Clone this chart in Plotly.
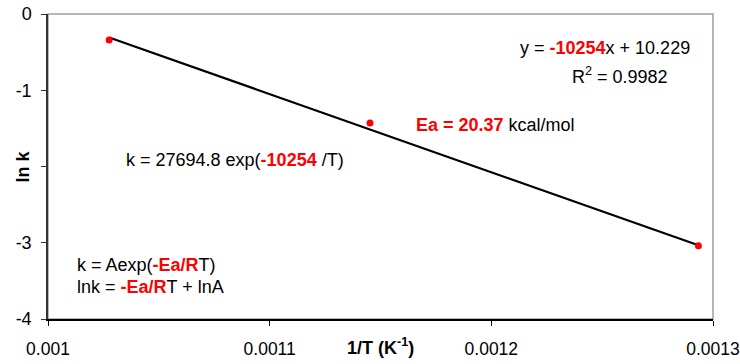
import plotly.graph_objects as go

# Data
inv_T = [1 / 973.15, 1 / 873.15, 1 / 773.15]   # 1/T (K^-1)
ln_k = [-0.34, -1.43, -3.04]
slope = -10254
intercept = 10.229
r2 = 0.9982
Ea = 20.37
A = 27694.8

x_ticks = [0.001, 0.0011, 0.0012, 0.0013]
x_tick_labels = ["0.001", "0.0011", "0.0012", "0.0013"]
y_ticks = [0, -1, -2, -3, -4]
y_tick_labels = ["0", "-1", "", "-3", "-4"]

FONT = "Liberation Sans, Arial, sans-serif"
RED = "#ff0000"

fit_x = [min(inv_T), max(inv_T)]
fit_y = [slope * x + intercept for x in fit_x]

fig = go.Figure()
fig.add_trace(go.Scatter(x=fit_x, y=fit_y, mode="lines",
                         line=dict(color="black", width=2.2), showlegend=False,
                         hoverinfo="skip"))
fig.add_trace(go.Scatter(x=inv_T, y=ln_k, mode="markers",
                         marker=dict(color=RED, size=7), showlegend=False))

def red(s):
    return f"<span style='color:{RED}'><b>{s}</b></span>"

ann = [
    dict(x=0.001212, y=-0.45, xanchor="left", yanchor="middle",
         text=f"y = {red(slope)}x + {intercept}"),
    dict(x=0.001258, y=-0.8, xanchor="center", yanchor="middle",
         text=f"R<sup>2</sup> = {r2}"),
    dict(x=0.0011652, y=-1.46, xanchor="left", yanchor="middle",
         text=f"{red(f'Ea = {Ea}')} kcal/mol"),
    dict(x=0.0010343, y=-1.92, xanchor="left", yanchor="middle",
         text=f"k = {A} exp({red(slope)} /T)"),
    dict(x=0.0010122, y=-3.29, xanchor="left", yanchor="middle",
         text=f"k = Aexp({red('-Ea/R')}T)"),
    dict(x=0.0010122, y=-3.585, xanchor="left", yanchor="middle",
         text=f"lnk = {red('-Ea/R')}T + lnA"),
]
annotations = []
for a in ann:
    a.update(xref="x", yref="y", showarrow=False,
             font=dict(family=FONT, size=18, color="black"))
    annotations.append(a)

annotations.append(dict(xref="paper", yref="paper", x=0.5, y=0, yshift=-27,
                        xanchor="center", yanchor="middle", showarrow=False,
                        text="<b>1/T (K<sup>-1</sup>)</b>",
                        font=dict(family=FONT, size=18, color="black")))
annotations.append(dict(xref="paper", yref="paper", x=0, y=0.5, xshift=-26,
                        xanchor="center", yanchor="middle", showarrow=False,
                        textangle=-90, text="<b>ln k</b>",
                        font=dict(family=FONT, size=18, color="black")))

fig.update_layout(
    width=740, height=364,
    margin=dict(l=48, r=27, t=14, b=45),
    paper_bgcolor="white", plot_bgcolor="white",
    font=dict(family=FONT, size=18, color="black"),
    annotations=annotations,
    shapes=[dict(type="rect", xref="paper", yref="paper", x0=0, x1=1, y0=0, y1=1,
                 line=dict(color="#a0a0a0", width=1.5), layer="below")],
    xaxis=dict(range=[0.001, 0.0013], tickvals=x_ticks, ticktext=x_tick_labels,
               showgrid=False, zeroline=False, showline=True, linecolor="black",
               linewidth=1.5, ticks="outside", ticklen=5, tickcolor="black",
               ticklabelstandoff=8, tickfont=dict(size=17.5), automargin=False,
               ticklabeloverflow="allow"),
    yaxis=dict(range=[-4, 0], tickvals=y_ticks, ticktext=y_tick_labels,
               showgrid=False, zeroline=False, showline=True, linecolor="#333333",
               linewidth=1.5, ticks="outside", ticklen=5, tickcolor="#333333",
               ticklabelstandoff=6, tickfont=dict(size=18), automargin=False),
)

fig.write_html("out.html")
